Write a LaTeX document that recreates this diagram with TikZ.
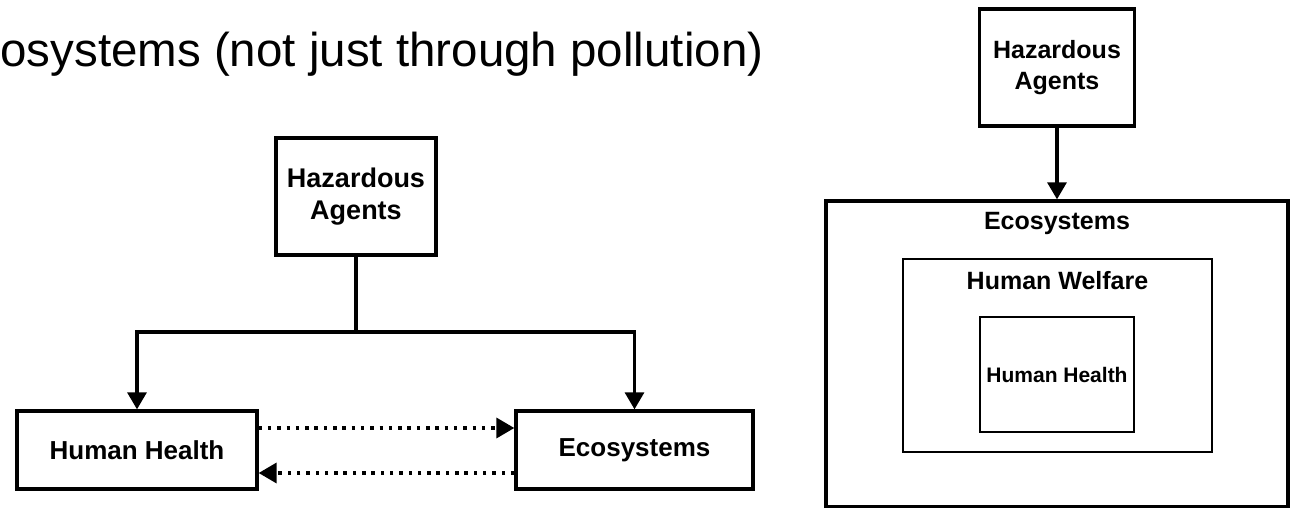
\documentclass[tikz,border=0pt]{standalone}
\usepackage{fontspec}
\setmainfont{Liberation Sans}
\usetikzlibrary{arrows.meta}

\tikzset{every picture/.style={line width=0.75pt}}
\tikzset{
  box/.style={draw,line width=3.3pt,rectangle,inner sep=0pt,align=center,font=\fontsize{26}{32}\selectfont\bfseries},
  thinbox/.style={draw,line width=1.5pt,rectangle,inner sep=0pt},
  lbl/.style={inner sep=0pt,font=\fontsize{25}{31}\selectfont\bfseries},
  conn/.style={-{Triangle[width=19pt,length=17pt]},line width=3.2pt},
  dotconn/.style={-{Triangle[width=20pt,length=18pt]},line width=3.5pt,dash pattern=on 3.5pt off 5.8pt}
}

\begin{document}
\begin{tikzpicture}[x=1pt,y=-1pt]
  \useasboundingbox[fill=white] (0,0) rectangle (1291,508);
  \node[anchor=base west,inner sep=0pt,font=\fontsize{47.5}{57}\selectfont] (title) at (0,67) {osystems (not just through pollution)}; %見出し
  % 左図
  \node[box,minimum width=160pt,minimum height=117pt,font=\fontsize{27}{32}\selectfont\bfseries] (hazL) at (356,196.5) {Hazardous\\Agents};
  \node[box,minimum width=240pt,minimum height=78pt] (hhL) at (137,450) {Human Health};
  \node[box,minimum width=237pt,minimum height=78pt] (ecoL) at (634.5,450) {Ecosystems};
  \coordinate (split) at (356,332);
  \draw[line width=3.2pt] (hazL.south)--(split);
  \draw[conn] (split)-|(hhL.north);
  \draw[conn] (split)-|(ecoL.north);
  \draw[dotconn] ([yshift=22pt]hhL.east)--([yshift=22pt]ecoL.west);
  \draw[dotconn] ([yshift=-23pt]ecoL.west)--([yshift=-23pt]hhL.east);
  % 右図
  \node[box,minimum width=155pt,minimum height=117pt,font=\fontsize{25}{31}\selectfont\bfseries] (hazR) at (1057,67.5) {Hazardous\\Agents};
  \node[box,minimum width=462pt,minimum height=306pt] (ecoR) at (1057,354) {};
  \node[thinbox,minimum width=309pt,minimum height=193pt] (hwR) at (1057.5,355.5) {};
  \node[thinbox,minimum width=154pt,minimum height=115pt,font=\fontsize{21}{25}\selectfont\bfseries] (hhR) at (1057,374.5) {Human Health};
  \node[lbl] (ecoRlbl) at (1057,223) {Ecosystems};
  \node[lbl] (hwRlbl) at (1057.5,281) {Human Welfare};
  \draw[conn] (hazR.south)--(ecoR.north);
\end{tikzpicture}
\end{document}
